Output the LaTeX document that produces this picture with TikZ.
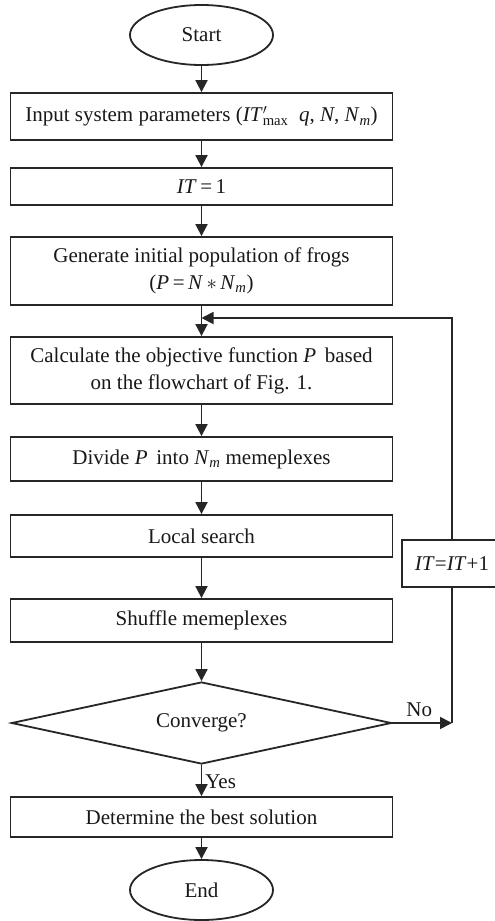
\documentclass[tikz,border=0pt]{standalone}
\usepackage{fontspec}
\setmainfont{Liberation Serif}
\usetikzlibrary{arrows.meta,shapes.geometric}

\newcommand{\vv}[1]{\textit{#1}}
\newcommand{\sbm}{\textsubscript{\textit{m}}}

\tikzset{
  every node/.style={font=\fontsize{21}{27}\selectfont, text=black!90},
  procbox/.style={draw=black!85, line width=1.8pt, minimum width=382pt,
                  inner sep=0pt, align=center},
  term/.style={draw=black!85, line width=1.8pt, ellipse, minimum width=143pt,
               minimum height=60pt, inner sep=0pt},
  decide/.style={draw=black!85, line width=1.8pt, diamond, aspect=4.6,
                 minimum width=380pt, minimum height=82pt, inner sep=0pt},
  arr/.style={draw=black!85, line width=1.8pt,
              -{Triangle[length=12pt,width=12pt]}},
  plain/.style={draw=black!85, line width=1.8pt}
}

\begin{document}
\begin{tikzpicture}[x=1pt, y=-1pt]
\clip (0,0) rectangle (495,921);
\fill[white] (0,0) rectangle (495,921);

\node[term] (start) at (201.5,35) {Start};
\node[procbox, minimum height=47pt] (input) at (201.5,116.5)
  {Input system parameters (\vv{IT}\rlap{$'$}\textsubscript{max}\ \ \vv{q}, \vv{N}, \vv{N}\sbm)};
\node[procbox, minimum height=37pt] (init) at (201.5,186.5) {\vv{IT}\,=\,1};
\node[procbox, minimum height=68pt] (gen) at (201.5,271)
  {Generate initial population of frogs\\(\vv{P}\,=\,\vv{N}\,$\ast$\,\vv{N}\sbm)};
\node[procbox, minimum height=67pt] (calc) at (201.5,370.5)
  {Calculate the objective function \vv{P}\, based\\on the flowchart of Fig. 1.};
\node[procbox, minimum height=44pt] (divide) at (201.5,459)
  {Divide \vv{P}\, into \vv{N}\sbm\ memeplexes};
\node[procbox, minimum height=42pt] (local) at (201.5,536) {Local search};
\node[procbox, minimum height=43pt] (shuffle) at (201.5,620.5) {Shuffle memeplexes};
\node[decide] (conv) at (201.5,723) {Converge?};
\node[procbox, minimum height=40pt] (best) at (201.5,817) {Determine the best solution};
\node[term] (end) at (201.5,890) {End};

\node[draw=black!85, line width=1.8pt, minimum width=100pt, minimum height=47pt,
      inner sep=0pt] (incr) at (452,563.5) {\vv{IT}=\vv{IT}+1\hspace{6pt}};

\coordinate (joinpt) at (452,723);
\coordinate (loopin) at (201.5,318);

\draw[arr] (start) -- (input);
\draw[arr] (input) -- (init);
\draw[arr] (init) -- (gen);
\draw[arr] (gen) -- (calc);
\draw[arr] (calc) -- (divide);
\draw[arr] (divide) -- (local);
\draw[arr] (local) -- (shuffle);
\draw[arr] (shuffle) -- (conv);
\draw[arr] (conv) -- node[right, inner sep=3pt, yshift=-1pt] {Yes} (best);
\draw[arr] (best) -- (end);

\draw[arr] (conv.east) -- node[above, pos=0.45, yshift=2pt] {No} (joinpt);
\draw[plain] (joinpt) -- (incr.south);
\draw[arr] (incr.north) |- (loopin);
\end{tikzpicture}
\end{document}
